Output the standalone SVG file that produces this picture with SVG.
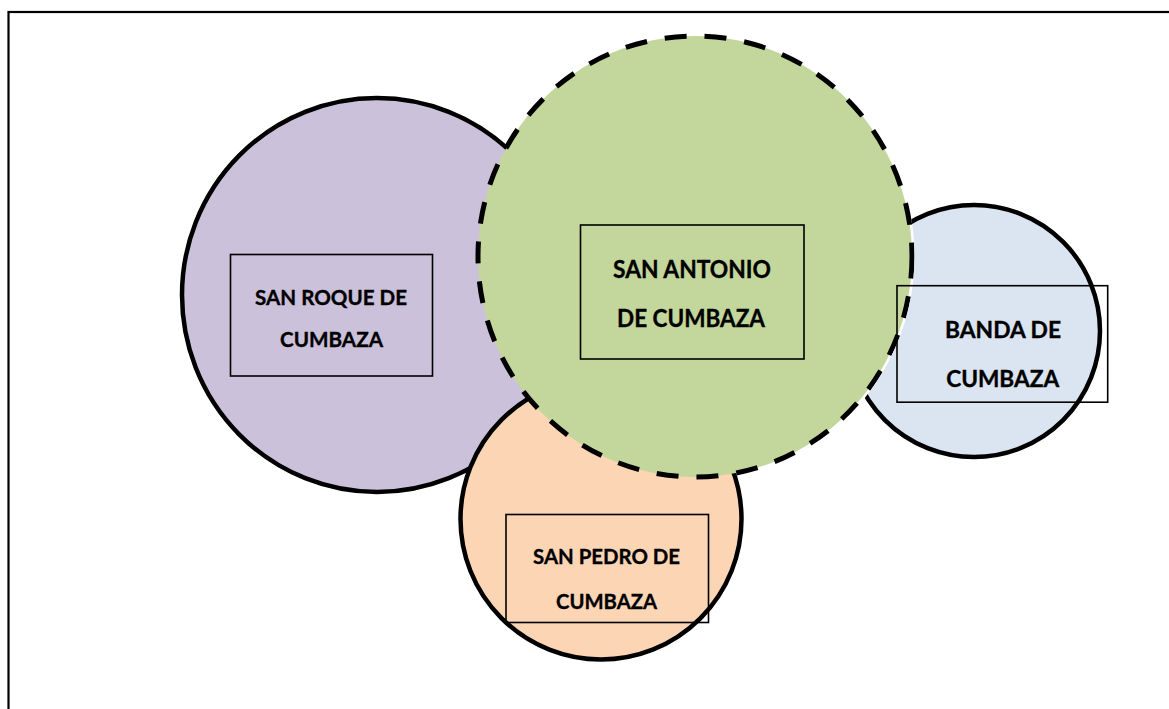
<svg xmlns="http://www.w3.org/2000/svg" width="1169" height="709" viewBox="0 0 1169 709">
<style>
.c{stroke:#000;stroke-width:4.5}
.dash{stroke:#000;stroke-width:5;stroke-dasharray:22 18}
.box{fill:none;stroke:#000;stroke-width:1.6}
.t{font-family:Lato,"Open Sans","Liberation Sans",sans-serif;font-weight:bold;fill:#000;stroke:#000;stroke-width:0.35;text-anchor:middle}
</style>
<defs>
<mask id="notGreen" maskUnits="userSpaceOnUse" x="0" y="0" width="1169" height="709">
<rect x="0" y="0" width="1169" height="709" fill="#fff"/>
<ellipse cx="695" cy="256.5" rx="219.5" ry="223" fill="#000"/>
</mask>
</defs>
<rect x="8.5" y="12" width="1200" height="750" fill="#fff" stroke="#000" stroke-width="2.2"/>
<g id="connectors"></g>
<g id="san-roque">
<ellipse cx="377" cy="295" rx="195" ry="197" class="c" fill="#CCC1DA"/>
<rect x="230.5" y="254.5" width="202" height="121.5" class="box"/>
<text class="t" x="331" y="305" font-size="20" textLength="152" lengthAdjust="spacingAndGlyphs">SAN ROQUE DE</text>
<text class="t" x="331.5" y="346.5" font-size="20" textLength="103" lengthAdjust="spacingAndGlyphs">CUMBAZA</text>
</g>
<g id="san-pedro">
<circle cx="601" cy="519" r="140.5" class="c" fill="#FCD5B5"/>
<rect x="506" y="514.5" width="202.5" height="108" class="box"/>
<text class="t" x="606.5" y="564.3" font-size="20.5" textLength="147" lengthAdjust="spacingAndGlyphs">SAN PEDRO DE</text>
<text class="t" x="606.5" y="609.3" font-size="20.5" textLength="101" lengthAdjust="spacingAndGlyphs">CUMBAZA</text>
</g>
<g id="san-antonio">
<ellipse cx="695" cy="256.5" rx="217" ry="220.5" fill="#C3D69B"/>
<ellipse cx="695" cy="256.5" rx="217" ry="220.5" fill="none" class="dash"/>
<rect x="580.5" y="225" width="223.5" height="134" class="box"/>
<text class="t" x="692" y="277.7" font-size="24" textLength="158" lengthAdjust="spacingAndGlyphs">SAN ANTONIO</text>
<text class="t" x="691" y="326.7" font-size="24" textLength="148" lengthAdjust="spacingAndGlyphs">DE CUMBAZA</text>
</g>
<g id="banda">
<circle cx="974" cy="331" r="126" class="c" fill="#DBE5F1" mask="url(#notGreen)"/>
<rect x="897" y="285.7" width="210.7" height="116.5" class="box"/>
<text class="t" x="1003" y="337.7" font-size="22" textLength="116" lengthAdjust="spacingAndGlyphs">BANDA DE</text>
<text class="t" x="1002.7" y="386.7" font-size="22" textLength="113" lengthAdjust="spacingAndGlyphs">CUMBAZA</text>
</g>
</svg>
